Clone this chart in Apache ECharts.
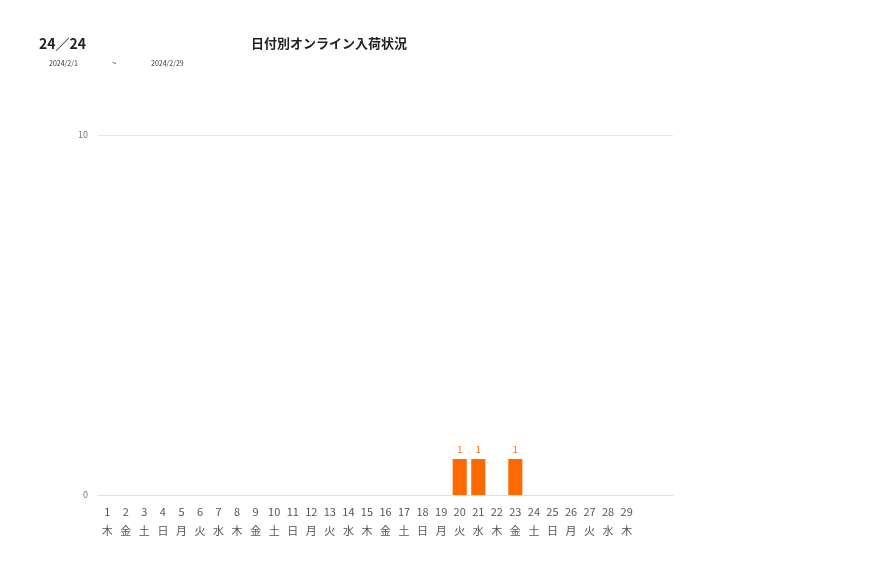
<!DOCTYPE html>
<html lang="ja">
<head>
    <meta charset="UTF-8">
    <title>日付別オンライン入荷状況</title>
    <script src="https://cdn.jsdelivr.net/npm/echarts@6/dist/echarts.min.js"></script>
    <style>
        html, body { margin: 0; padding: 0; background: #fff; }
        #chart { width: 877px; height: 578px; }
    </style>
</head>
<body>
    <div id="chart"></div>
    <script>
        // 日付と曜日（30, 31 は空枠）
        var days = ['1', '2', '3', '4', '5', '6', '7', '8', '9', '10', '11', '12', '13', '14', '15',
            '16', '17', '18', '19', '20', '21', '22', '23', '24', '25', '26', '27', '28', '29', '', '']
        var weekdays = ['木', '金', '土', '日', '月', '火', '水', '木', '金', '土', '日', '月', '火', '水', '木',
            '金', '土', '日', '月', '火', '水', '木', '金', '土', '日', '月', '火', '水', '木', '', '']
        // 入荷数
        var counts = [0, 0, 0, 0, 0, 0, 0, 0, 0, 0, 0, 0, 0, 0, 0,
            0, 0, 0, 0, 1, 1, 0, 1, 0, 0, 0, 0, 0, 0, 0, 0]

        var xLabels = days.map(function (d, i) { return d + '\n' + weekdays[i] })
        var barData = counts.map(function (v) { return v === 0 ? null : v })

        var font = '"Noto Sans CJK JP", "Noto Sans", sans-serif'
        var myChart = echarts.init(document.getElementById('chart'))
        var option = {
            animation: false,
            textStyle: { fontFamily: font },
            title: [
                {
                    text: '24／24',
                    left: 34, top: 32,
                    textStyle: { fontSize: 14, fontWeight: 'bold', color: '#222', fontFamily: font }
                },
                {
                    text: '日付別オンライン入荷状況',
                    left: 246, top: 32,
                    textStyle: { fontSize: 13, fontWeight: 'bold', color: '#222', fontFamily: font }
                },
                {
                    text: '2024/2/1',
                    left: 44, top: 55,
                    textStyle: { fontSize: 7, fontWeight: 'normal', color: '#333', fontFamily: font }
                },
                {
                    text: '~',
                    left: 107, top: 54,
                    textStyle: { fontSize: 8, fontWeight: 'normal', color: '#333', fontFamily: font }
                },
                {
                    text: '2024/2/29',
                    left: 146, top: 55,
                    textStyle: { fontSize: 7, fontWeight: 'normal', color: '#333', fontFamily: font }
                }
            ],
            grid: { left: 98, right: 204, top: 135, bottom: 83, containLabel: false },
            xAxis: {
                type: 'category',
                data: xLabels,
                axisLine: { show: true, lineStyle: { color: '#e0e0e0' } },
                axisTick: { show: false },
                axisLabel: {
                    interval: 0, color: '#555', fontSize: 11, lineHeight: 19, margin: 7,
                    fontFamily: font
                }
            },
            yAxis: {
                type: 'value',
                min: 0, max: 10, interval: 10,
                axisLine: { show: false },
                axisTick: { show: false },
                splitLine: { lineStyle: { color: '#e6e6e6' } },
                axisLabel: { color: '#777', fontSize: 9, margin: 10 }
            },
            series: [
                {
                    type: 'bar',
                    data: barData,
                    barWidth: '76%',
                    itemStyle: { color: '#ff6a00' },
                    label: {
                        show: true, position: 'top', distance: 5,
                        color: '#ff6a00', fontSize: 9
                    }
                }
            ]
        }
        myChart.setOption(option)
    </script>
</body>
</html>
